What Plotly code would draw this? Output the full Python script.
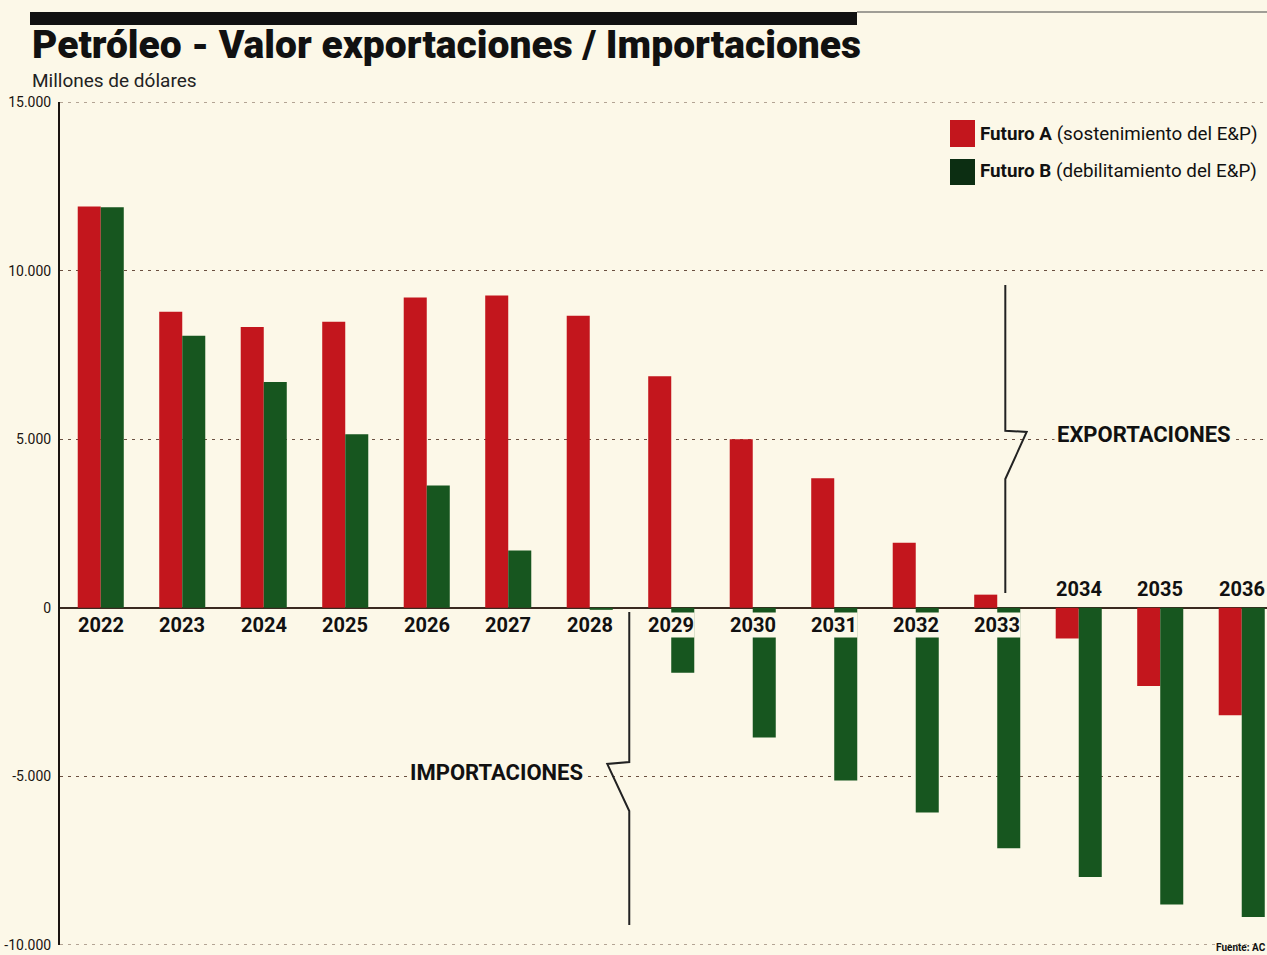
import plotly.graph_objects as go

# ---- data ----
years = [2022, 2023, 2024, 2025, 2026, 2027, 2028, 2029, 2030, 2031, 2032, 2033, 2034, 2035, 2036]
futuro_a = [11900, 8780, 8330, 8480, 9200, 9260, 8660, 6870, 5000, 3840, 1930, 390, -910, -2320, -3185]
futuro_b = [11880, 8070, 6700, 5150, 3630, 1700, -60, -1925, -3850, -5120, -6070, -7130, -7980, -8800, -9170]
y_ticks = [15000, 10000, 5000, 0, -5000, -10000]
y_tick_labels = ["15.000", "10.000", "5.000", "0", "-5.000", "-10.000"]
series_names = ["Futuro A", "Futuro B"]
series_notes = ["(sostenimiento del E&P)", "(debilitamiento del E&P)"]

BG = "#fcf8e8"
RED = "#c3161d"
GREEN = "#17561f"
GREEN_DARK = "#0c2e12"
INK = "#1a1410"
GRID = "#6b5040"
FONT = "Roboto"

fig = go.Figure()
fig.add_bar(x=years, y=futuro_a, name=series_names[0], marker_color=RED,
            marker_line_width=0, showlegend=False)
fig.add_bar(x=years, y=futuro_b, name=series_names[1], marker_color=GREEN,
            marker_line_width=0, showlegend=False)

fig.update_layout(
    width=1267, height=955,
    margin=dict(l=60, r=0, t=102, b=10),
    paper_bgcolor=BG, plot_bgcolor=BG,
    barmode="group", bargap=0.435, bargroupgap=0,
    font=dict(family=FONT, color=INK),
)
fig.update_xaxes(range=[2021.5, 2036.31], showticklabels=False, showgrid=False,
                 zeroline=False, showline=False, ticks="")
fig.update_yaxes(range=[-10000, 15000], tickvals=y_ticks, ticktext=y_tick_labels,
                 showgrid=True, gridcolor=GRID, griddash="3px,5px", gridwidth=1,
                 zeroline=True, zerolinecolor="#3a2a20", zerolinewidth=1.6,
                 showline=True, linecolor=INK, linewidth=2, ticks="", ticklabelstandoff=4,
                 tickfont=dict(family=FONT, size=14, color=INK))

annotations = []
# year labels
for yr, a, b in zip(years, futuro_a, futuro_b):
    above = a < 0
    annotations.append(dict(
        x=yr, y=560 if above else -520, xref="x", yref="y",
        text=str(yr), showarrow=False,
        font=dict(family=FONT, size=20, color="#111", weight=700),
        bgcolor=BG, borderpad=0,
    ))

# section labels
annotations.append(dict(x=2034.80, y=5125, xref="x", yref="y", text="<b>EXPORTACIONES</b>",
                        showarrow=False, font=dict(family=FONT, size=22, color="#111"),
                        bgcolor=BG, borderpad=2))
annotations.append(dict(x=2026.86, y=-4870, xref="x", yref="y", text="<b>IMPORTACIONES</b>",
                        showarrow=False, font=dict(family=FONT, size=22, color="#111"),
                        bgcolor=BG, borderpad=2))

# title / subtitle
annotations.append(dict(x=-0.025, y=(945 - 45) / 843, xref="paper", yref="paper", xanchor="left", yanchor="middle",
                        text="Petróleo - Valor exportaciones / Importaciones", showarrow=False,
                        font=dict(family=FONT, size=39, color="#111", weight=900)))
annotations.append(dict(x=-0.025, y=(945 - 81) / 843, xref="paper", yref="paper", xanchor="left", yanchor="middle",
                        text="Millones de dólares", showarrow=False,
                        font=dict(family=FONT, size=19, color="#222")))

# legend text
for i, (nm, note) in enumerate(zip(series_names, series_notes)):
    annotations.append(dict(x=(978 - 60) / 1207, y=(945 - (134 + 37 * i)) / 843, xref="paper", yref="paper",
                            xanchor="left", yanchor="middle",
                            text=f"<b>{nm}</b> {note}", showarrow=False,
                            font=dict(family=FONT, size=18.8, color="#111")))

# source
annotations.append(dict(x=1.0, y=(945 - 954) / 843, xref="paper", yref="paper", xanchor="right", yanchor="bottom",
                        text="<b>Fuente: AC</b>", showarrow=False,
                        font=dict(family=FONT, size=10, color="#111"), borderpad=0))
fig.update_layout(annotations=annotations)

def px_x(px):
    return (px - 60) / 1207

def px_y(py):
    return (945 - py) / 843

shapes = [
    # heavy bar above title
    dict(type="rect", xref="paper", yref="paper", x0=px_x(30), x1=px_x(857), y0=px_y(25), y1=px_y(12),
         fillcolor="#111", line_width=0, layer="above"),
    dict(type="line", xref="paper", yref="paper", x0=px_x(857), x1=1.0, y0=px_y(12), y1=px_y(12),
         line=dict(color="#444", width=1)),
    # gridlines at the range ends
    dict(type="line", xref="paper", yref="y", x0=0, x1=1, y0=y_ticks[0], y1=y_ticks[0],
         line=dict(color=GRID, width=1, dash="3px,5px")),
    dict(type="line", xref="paper", yref="y", x0=0, x1=1, y0=y_ticks[-1], y1=y_ticks[-1],
         line=dict(color=GRID, width=1, dash="3px,5px")),
    # legend swatches
    dict(type="rect", xref="paper", yref="paper", x0=px_x(950), x1=px_x(975), y0=px_y(147), y1=px_y(120),
         fillcolor=RED, line_width=0),
    dict(type="rect", xref="paper", yref="paper", x0=px_x(950), x1=px_x(975), y0=px_y(185), y1=px_y(159),
         fillcolor=GREEN_DARK, line_width=0),
    # EXPORTACIONES brace
    dict(type="path", xref="x", yref="y",
         path="M 2033.099,9573 L 2033.099,5252 L 2033.361,5214 L 2033.099,3820 L 2033.099,439",
         line=dict(color="#222", width=2), layer="above"),
    # IMPORTACIONES brace
    dict(type="path", xref="x", yref="y",
         path="M 2028.485,-125 L 2028.485,-4573 L 2028.215,-4632 L 2028.485,-6026 L 2028.485,-9407",
         line=dict(color="#222", width=2), layer="above"),
]
fig.update_layout(shapes=shapes)

fig.write_html("out.html", config={"displayModeBar": False},
               post_script="document.body.style.margin='0';")
